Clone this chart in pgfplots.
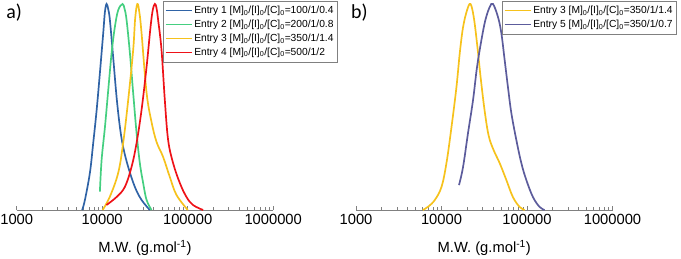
\documentclass[border=0pt]{standalone}
\usepackage{pgfplots}
\pgfplotsset{compat=1.18}
\usepackage{fontspec}
\setmainfont{Liberation Sans}
\newfontfamily\calib{Carlito}
\definecolor{cblue}{HTML}{2F63A6}
\definecolor{cgreen}{HTML}{45CF80}
\definecolor{cyellow}{HTML}{F6C21C}
\definecolor{cred}{HTML}{EE1218}
\definecolor{cpurple}{HTML}{5C5C9C}
\pgfplotsset{
  legend image code/.code={\draw[#1, line width=1.4pt] (0bp,0bp) -- (26bp,0bp);},
}
\begin{document}
\begin{tikzpicture}
\useasboundingbox (0,0) rectangle (681bp,259bp);
% panel a
\begin{axis}[at={(16.7bp,49bp)}, anchor=south west,
    scale only axis, width=256.5bp, height=206bp,
    xmode=log, xmin=1000, xmax=1000000, ymin=0, ymax=1,
    axis x line=bottom, axis y line=none,
    x axis line style={-, draw=gray, line width=0.7pt},
    xtick={1000,10000,100000,1000000},
    xticklabels={1000,10000,100000,1000000},
    tick align=inside,
    major tick length=4bp, minor tick length=2.5bp,
    every tick/.style={gray, line width=0.6pt},
    xticklabel style={font=\fontsize{14.8}{15}\selectfont, text=black, yshift=-0.5bp},
    xlabel={M.W. (g.mol\textsuperscript{-1})},
    xlabel style={font=\fontsize{14.8}{15}\selectfont, at={(axis description cs:0.5,0)}, anchor=center, yshift=-38bp},
    clip=false,
    legend cell align=left,
    legend style={font=\fontsize{10.3}{12}\selectfont, draw=gray, line width=0.6pt, inner xsep=1.5pt, inner ysep=3pt, row sep=1bp, anchor=north east, at={(axis description cs:1.25,1.015)}},
    every axis plot/.append style={smooth, tension=0.6, line width=1.7pt}]
\addplot[cblue] coordinates {(5834,0) (6281,0.049) (7178,0.18) (7852,0.325) (8610,0.485) (9397,0.665) (10280,0.859) (10750,0.96) (11246,1.0) (11760,0.975) (12303,0.922) (13428,0.743) (14723,0.549) (16106,0.403) (17579,0.306) (20137,0.209) (24099,0.112) (28840,0.049) (36058,0)};
\addlegendentry{Entry 1 [M]\textsubscript{0}/[I]\textsubscript{0}/[C]\textsubscript{0}=100/1/0.4}
\addplot[cgreen] coordinates {(9397,0.089) (9840,0.243) (10770,0.403) (11770,0.583) (12880,0.762) (14060,0.888) (15380,0.97) (17300,1.0) (18300,0.975) (19280,0.922) (21080,0.762) (23030,0.568) (25230,0.374) (27550,0.228) (30130,0.131) (33020,0.049) (37760,0)};
\addlegendentry{Entry 2 [M]\textsubscript{0}/[I]\textsubscript{0}/[C]\textsubscript{0}=200/1/0.8}
\addplot[cyellow] coordinates {(10120,0) (12300,0.065) (15380,0.18) (17580,0.325) (20140,0.534) (23030,0.777) (24300,0.93) (25760,1.0) (27200,0.96) (28840,0.86) (33020,0.57) (37760,0.427) (43250,0.33) (51640,0.257) (61800,0.160) (73960,0.073) (100200,0)};
\addlegendentry{Entry 3 [M]\textsubscript{0}/[I]\textsubscript{0}/[C]\textsubscript{0}=350/1/1.4}
\addplot[cred] coordinates {(11200,0.024) (14720,0.063) (18410,0.112) (22040,0.209) (25230,0.325) (28840,0.485) (33020,0.694) (36750,0.888) (39000,0.97) (41300,1.0) (43200,0.98) (45110,0.922) (49410,0.777) (53990,0.534) (59020,0.34) (67450,0.228) (80910,0.131) (96830,0.063) (115600,0.024) (151400,0)};
\addlegendentry{Entry 4 [M]\textsubscript{0}/[I]\textsubscript{0}/[C]\textsubscript{0}=500/1/2}
\node[font=\calib\fontsize{20}{20}\selectfont, anchor=center] at (axis description cs:-0.01,0.958) {a)};
\end{axis}
% panel b
\begin{axis}[at={(356bp,49bp)}, anchor=south west,
    scale only axis, width=256.5bp, height=206bp,
    xmode=log, xmin=1000, xmax=1000000, ymin=0, ymax=1,
    axis x line=bottom, axis y line=none,
    x axis line style={-, draw=gray, line width=0.7pt},
    xtick={1000,10000,100000,1000000},
    xticklabels={1000,10000,100000,1000000},
    tick align=inside,
    major tick length=4bp, minor tick length=2.5bp,
    every tick/.style={gray, line width=0.6pt},
    xticklabel style={font=\fontsize{14.8}{15}\selectfont, text=black, yshift=-0.5bp},
    xlabel={M.W. (g.mol\textsuperscript{-1})},
    xlabel style={font=\fontsize{14.8}{15}\selectfont, at={(axis description cs:0.5,0)}, anchor=center, yshift=-38bp},
    clip=false,
    legend cell align=left,
    legend style={font=\fontsize{10.3}{12}\selectfont, draw=gray, line width=0.6pt, inner xsep=1.5pt, inner ysep=3pt, row sep=1bp, anchor=north east, at={(axis description cs:1.249,1.015)}},
    every axis plot/.append style={smooth, tension=0.6, line width=1.7pt}]
\addplot[cyellow] coordinates {(6050,0) (6980,0.016) (8360,0.049) (10000,0.112) (11430,0.228) (13090,0.403) (14960,0.597) (16360,0.762) (17880,0.888) (19910,0.97) (21800,1.0) (23820,0.937) (26170,0.80) (28750,0.64) (32000,0.48) (35650,0.36) (40770,0.29) (47860,0.228) (57300,0.146) (68400,0.063) (81970,0.015) (93800,0)};
\addlegendentry{Entry 3 [M]\textsubscript{0}/[I]\textsubscript{0}/[C]\textsubscript{0}=350/1/1.4}
\addplot[cpurple] coordinates {(16030,0.121) (17870,0.209) (20430,0.374) (23380,0.534) (26030,0.694) (29300,0.825) (32600,0.922) (36600,0.985) (40000,1.0) (45750,0.937) (50100,0.859) (54780,0.728) (59850,0.597) (65580,0.471) (75040,0.34) (85800,0.228) (98100,0.146) (117300,0.063) (140300,0.015) (160400,0)};
\addlegendentry{Entry 5 [M]\textsubscript{0}/[I]\textsubscript{0}/[C]\textsubscript{0}=350/1/0.7}
\node[font=\calib\fontsize{20}{20}\selectfont, anchor=center] at (axis description cs:0.0136,0.958) {b)};
\end{axis}
\end{tikzpicture}
\end{document}
